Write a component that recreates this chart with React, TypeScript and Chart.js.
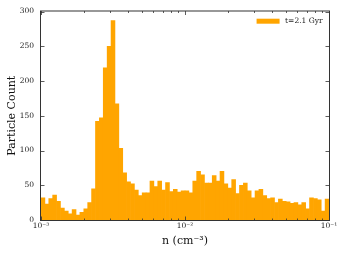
import React, { useEffect, useRef } from 'react';
import { Chart, registerables } from 'chart.js';

Chart.register(...registerables);

// Histogram counts per log-spaced bin (10^-3 .. 10^-1)
const counts = [
  32, 23, 31, 36, 27, 17, 13, 9, 15, 7, 11, 16, 25, 45, 142, 147, 219, 250, 287, 167,
  103, 68, 55, 52, 43, 35, 39, 39, 56, 48, 56, 43, 54, 41, 44, 40, 42, 42, 39, 56,
  70, 65, 53, 53, 64, 56, 70, 52, 46, 58, 38, 50, 53, 42, 32, 42, 44, 35, 31, 32,
  25, 30, 27, 26, 24, 25, 22, 25, 16, 32, 31, 29, 13, 30,
];
const binLogMin = -3;
const binLogMax = -1;
const binCenters = counts.map((_, i) =>
  Math.pow(10, binLogMin + ((i + 0.5) * (binLogMax - binLogMin)) / counts.length)
);
const xMajorTicks = [1e-3, 1e-2, 1e-1];
const xTickLabels = ['10⁻³', '10⁻²', '10⁻¹'];
const yTicks = [0, 50, 100, 150, 200, 250, 300];
const seriesLabel = 't=2.1 Gyr';
const xTitle = 'n (cm⁻³)';
const yTitle = 'Particle Count';

const FONT = "'DejaVu Serif', serif";
const BAR_COLOR = '#FFA500';
const AXIS_COLOR = '#333333';

const framePlugin = {
  id: 'frameTicksLegend',
  afterDraw(chart: any) {
    const { ctx, chartArea: a, scales } = chart;
    const xs = scales.x;
    const ys = scales.y;
    ctx.save();
    ctx.strokeStyle = AXIS_COLOR;
    ctx.lineWidth = 1;
    const L = a.left - 0.5;
    const R = a.right + 0.5;
    const T = a.top - 0.5;
    const B = a.bottom + 0.5;
    ctx.strokeRect(L, T, R - L, B - T);

    ctx.lineWidth = 0.8;
    const vline = (px: number, y0: number, y1: number) => {
      ctx.beginPath();
      ctx.moveTo(px, y0);
      ctx.lineTo(px, y1);
      ctx.stroke();
    };
    const hline = (py: number, x0: number, x1: number) => {
      ctx.beginPath();
      ctx.moveTo(x0, py);
      ctx.lineTo(x1, py);
      ctx.stroke();
    };
    // x ticks (major + minor, log)
    for (let e = binLogMin; e <= binLogMax; e++) {
      for (let k = 1; k <= 9; k++) {
        const v = k * Math.pow(10, e);
        if (v > Math.pow(10, binLogMax) * 1.0001) break;
        const px = Math.round(xs.getPixelForValue(v)) + 0.5;
        const len = k === 1 ? 4 : 2;
        vline(px, B, B - len);
        vline(px, T, T + len);
      }
    }
    // y ticks
    ys.ticks.forEach((t: any) => {
      const py = Math.round(ys.getPixelForValue(t.value)) + 0.5;
      hline(py, L, L + 4);
      hline(py, R, R - 4);
    });

    // legend inside the plot, top right
    const ds = chart.data.datasets[0];
    ctx.font = `7.5px ${FONT}`;
    const tw = ctx.measureText(ds.label).width;
    const textX = a.right - 6.5 - tw;
    const cy = a.top + 9.7;
    ctx.fillStyle = ds.backgroundColor;
    ctx.fillRect(textX - 5.5 - 23, cy - 2.5, 23, 5);
    ctx.fillStyle = '#222222';
    ctx.textBaseline = 'middle';
    ctx.textAlign = 'left';
    ctx.fillText(ds.label, textX, cy);
    ctx.restore();
  },
};

export default function App() {
  const ref = useRef<HTMLCanvasElement>(null);
  useEffect(() => {
    if (!ref.current) return;
    const chart = new Chart(ref.current, {
      type: 'bar',
      data: {
        datasets: [
          {
            label: seriesLabel,
            data: binCenters.map((x, i) => ({ x, y: counts[i] })),
            backgroundColor: BAR_COLOR,
            borderWidth: 0,
            barPercentage: 1,
            categoryPercentage: 1,
          } as any,
        ],
      },
      options: {
        responsive: false,
        animation: false,
        layout: { padding: { left: 0, top: 10, right: 17, bottom: 0 } },
        plugins: {
          legend: { display: false },
          tooltip: { enabled: false },
        },
        scales: {
          x: {
            type: 'logarithmic',
            min: 1e-3,
            max: 1e-1,
            offset: false,
            grid: { display: false, drawTicks: false },
            border: { display: false },
            afterBuildTicks: (s: any) => {
              s.ticks = xMajorTicks.map((v) => ({ value: v }));
            },
            afterFit: (s: any) => {
              s.height = 39;
            },
            ticks: {
              autoSkip: false,
              maxRotation: 0,
              minRotation: 0,
              padding: 1.5,
              color: '#222222',
              font: { family: FONT, size: 7.5 },
              callback: (v: any) => {
                const idx = xMajorTicks.findIndex((t) => Math.abs(t - Number(v)) / t < 1e-6);
                return idx >= 0 ? xTickLabels[idx] : '';
              },
            },
            title: {
              display: true,
              text: xTitle,
              color: '#111111',
              font: { family: FONT, size: 11 },
              padding: { top: 0, bottom: 11 },
            },
          },
          y: {
            type: 'linear',
            min: 0,
            max: 300,
            grid: { display: false, drawTicks: false },
            border: { display: false },
            afterBuildTicks: (s: any) => {
              s.ticks = yTicks.map((v) => ({ value: v }));
            },
            afterFit: (s: any) => {
              s.width = 41;
            },
            ticks: {
              padding: 7,
              color: '#222222',
              font: { family: FONT, size: 7.5 },
            },
            title: {
              display: true,
              text: yTitle,
              color: '#111111',
              font: { family: FONT, size: 11 },
              padding: { top: 5.4, bottom: 0 },
            },
          },
        },
      } as any,
      plugins: [framePlugin],
    });
    return () => chart.destroy();
  }, []);
  return (
    <div style={{ position: 'absolute', left: 0, top: 0, width: 346, height: 259, background: '#fff' }}>
      <canvas ref={ref} width={346} height={259} style={{ display: 'block' }} />
    </div>
  );
}
